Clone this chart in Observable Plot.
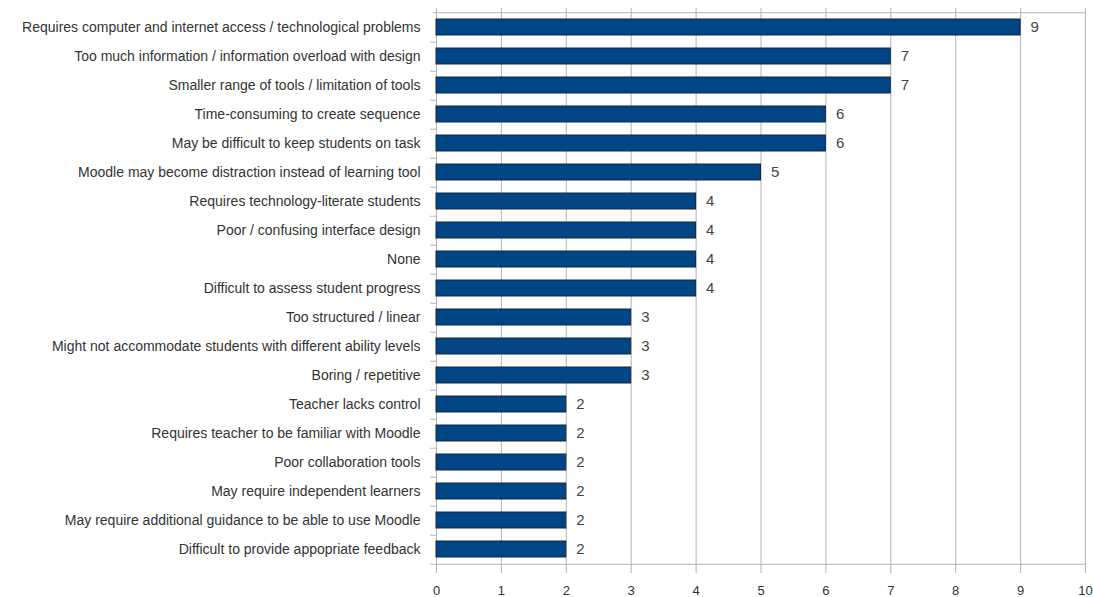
<!DOCTYPE html>
<html><head><meta charset="utf-8">
<script src="https://cdn.jsdelivr.net/npm/d3@7"></script>
<script src="https://cdn.jsdelivr.net/npm/@observablehq/plot@0.6"></script>
<style>body{margin:0;background:#fff}</style>
</head><body><div id="chart"></div>
<script>
const categories = [
  "Requires computer and internet access / technological problems",
  "Too much information / information overload with design",
  "Smaller range of tools / limitation of tools",
  "Time-consuming to create sequence",
  "May be difficult to keep students on task",
  "Moodle may become distraction instead of learning tool",
  "Requires technology-literate students",
  "Poor / confusing interface design",
  "None",
  "Difficult to assess student progress",
  "Too structured / linear",
  "Might not accommodate students with different ability levels",
  "Boring / repetitive",
  "Teacher lacks control",
  "Requires teacher to be familiar with Moodle",
  "Poor collaboration tools",
  "May require independent learners",
  "May require additional guidance to be able to use Moodle",
  "Difficult to provide appopriate feedback"
];
const counts = [9,7,7,6,6,5,4,4,4,4,3,3,3,2,2,2,2,2,2];
const xTicks = [0,1,2,3,4,5,6,7,8,9,10];

const data = categories.map((c,i)=>({category:c, count:counts[i]}));
const H = 597, mt = 8, mb = 29;
const step = (H - mt - mb) / categories.length;

const chart = Plot.plot({
  width: 1093, height: H,
  marginLeft: 436, marginRight: 8, marginTop: mt, marginBottom: mb,
  style: {fontFamily: "'Liberation Sans', Arial, sans-serif", background: "#fff"},
  x: {domain: [0,10], ticks: xTicks, label: null},
  y: {domain: categories, paddingInner: 0.46, paddingOuter: 0.23, label: null},
  marks: [
    Plot.ruleX(xTicks, {stroke: "#b3b3b3", strokeWidth: 1, strokeOpacity: 1}),
    Plot.ruleY(categories, {y: d=>d, x1: -0.09, x2: 0, dy: step/2, stroke: "#b3b3b3", strokeOpacity: 1}),
    Plot.ruleY([categories[0]], {y: d=>d, x1: -0.05, x2: 10, dy: -step/2, stroke: "#b3b3b3", strokeOpacity: 1}),
    Plot.ruleY([categories[categories.length-1]], {y: d=>d, x1: 0, x2: 10, dy: step/2, stroke: "#b3b3b3", strokeOpacity: 1}),
    Plot.barX(data, {x: "count", y: "category", fill: "#004586", stroke: "#17263d", strokeWidth: 1}),
    Plot.text(data, {x: "count", y: "category", text: d=>String(d.count), textAnchor: "start", dx: 10, fill: "#444", fontSize: 15}),
    Plot.axisX({ticks: xTicks, tickSize: 5, tickPadding: 12, fontSize: 13, color: "#333", stroke: "#b3b3b3", strokeOpacity: 1}),
    Plot.axisY({tickSize: 0, tickPadding: 16, fontSize: 14, color: "#333"})
  ]
});
document.getElementById("chart").append(chart);
</script>
</body></html>
